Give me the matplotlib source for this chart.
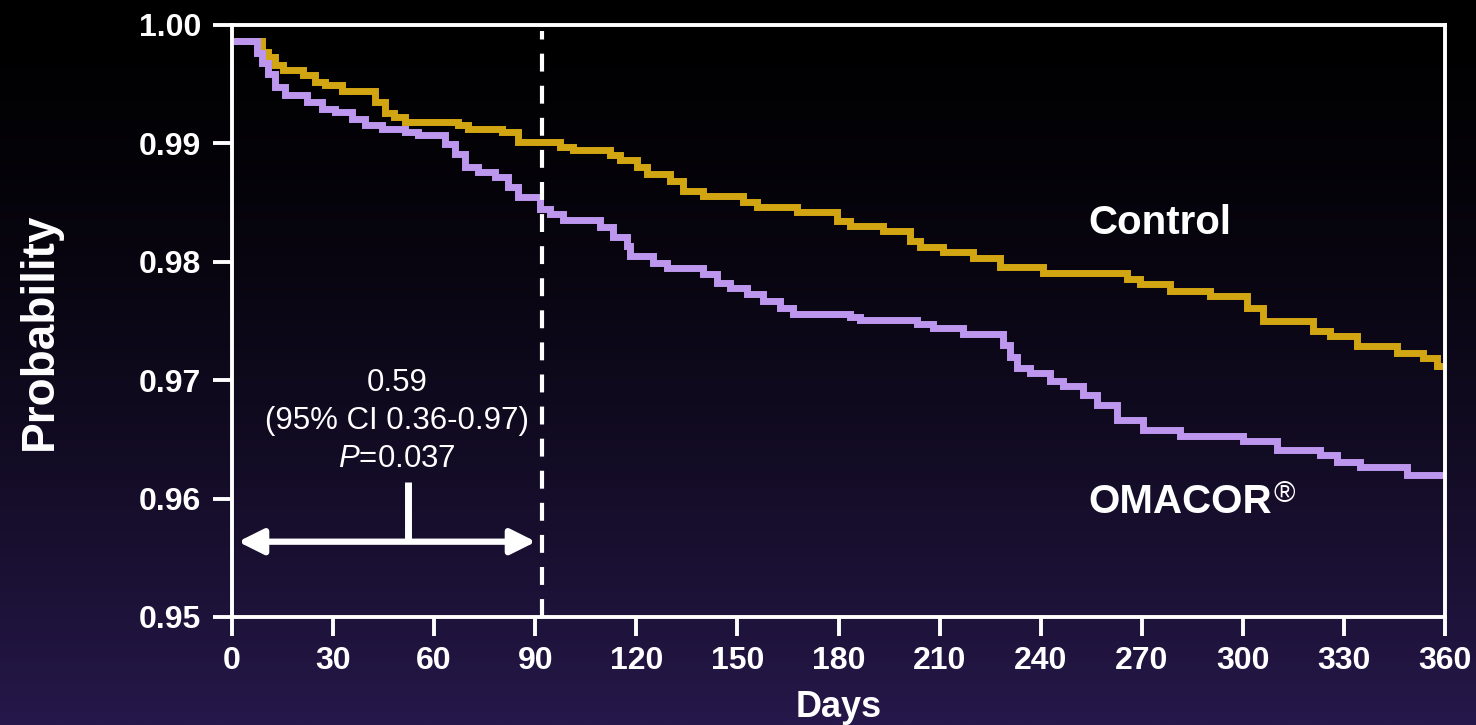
import matplotlib
matplotlib.use('Agg')
import matplotlib.pyplot as plt
import numpy as np

plt.rcParams['font.family'] = ['Liberation Sans', 'DejaVu Sans']
plt.rcParams['mathtext.fontset'] = 'custom'
plt.rcParams['mathtext.rm'] = 'Liberation Sans'
plt.rcParams['mathtext.it'] = 'Liberation Sans:italic'

# Kaplan-Meier style step curves (day, probability)
control_days = [1.5, 8.8, 10.8, 12.8, 15.2, 21.2, 24.6, 27.6, 32.6, 42.4, 45.4, 48.0,
                51.4, 67.2, 70.1, 80.0, 85.0, 97.4, 101.2, 112.2, 115.2, 120.2, 123.2,
                130.0, 133.9, 139.8, 151.7, 155.8, 167.7, 179.6, 183.4, 193.2, 201.2,
                204.2, 211.0, 219.9, 228.0, 240.7, 265.7, 269.5, 278.4, 290.3, 301.3,
                306.0, 320.9, 325.9, 333.9, 345.8, 353.5, 357.7, 359.5]
control_prob = [0.99867, 0.99774, 0.99731, 0.99661, 0.99619, 0.99576, 0.99520, 0.99492,
                0.99441, 0.99350, 0.99260, 0.99223, 0.99181, 0.99153, 0.99124, 0.99096,
                0.99011, 0.98969, 0.98941, 0.98898, 0.98856, 0.98799, 0.98743, 0.98686,
                0.98602, 0.98559, 0.98503, 0.98460, 0.98418, 0.98347, 0.98305, 0.98263,
                0.98178, 0.98121, 0.98079, 0.98036, 0.97958, 0.97909, 0.97853, 0.97811,
                0.97754, 0.97712, 0.97613, 0.97500, 0.97415, 0.97373, 0.97288, 0.97231,
                0.97189, 0.97119, 0.97119]

omacor_days = [1.5, 7.3, 8.8, 10.8, 12.8, 15.7, 22.2, 26.6, 30.6, 35.5, 39.5, 44.4, 51.4,
               55.3, 63.2, 66.2, 69.2, 73.1, 78.1, 82.0, 85.0, 91.4, 94.4, 98.2, 109.2,
               113.1, 117.2, 118.1, 125.0, 129.1, 139.8, 144.0, 147.8, 152.9, 157.6,
               162.7, 166.5, 183.4, 186.4, 203.3, 208.1, 217.0, 228.9, 231.0, 233.0,
               236.9, 242.8, 246.7, 252.6, 256.8, 262.7, 270.4, 281.4, 300.1, 310.2,
               322.9, 328.0, 334.8, 348.8, 359.5]
omacor_prob = [0.99867, 0.99760, 0.99675, 0.99590, 0.99477, 0.99407, 0.99350, 0.99294,
               0.99265, 0.99209, 0.99153, 0.99124, 0.99096, 0.99068, 0.98997, 0.98913,
               0.98799, 0.98757, 0.98714, 0.98630, 0.98545, 0.98449, 0.98404, 0.98353,
               0.98291, 0.98206, 0.98130, 0.98051, 0.97994, 0.97946, 0.97896, 0.97825,
               0.97782, 0.97726, 0.97669, 0.97613, 0.97562, 0.97530, 0.97505, 0.97477,
               0.97443, 0.97387, 0.97300, 0.97200, 0.97104, 0.97062, 0.96991, 0.96949,
               0.96879, 0.96794, 0.96667, 0.96582, 0.96525, 0.96483, 0.96412, 0.96370,
               0.96313, 0.96271, 0.96201, 0.96201]

x_ticks = [0, 30, 60, 90, 120, 150, 180, 210, 240, 270, 300, 330, 360]
y_ticks = [0.95, 0.96, 0.97, 0.98, 0.99, 1.00]
y_tick_labels = ['0.95', '0.96', '0.97', '0.98', '0.99', '1.00']

cutoff_day = 92
hr_lines = ['0.59', '(95% CI 0.36-0.97)', '$P$=0.037']

gold = '#d2a512'
lavender = '#bd96ee'

fig = plt.figure(figsize=(14.76, 7.25), dpi=100)

# background gradient: black on top, dark purple towards the bottom
bg = fig.add_axes([0, 0, 1, 1], zorder=0)
t = np.linspace(0, 1, 725)[:, None, None]
bottom_col = np.array([38, 24, 74]) / 255.0
grad = (t ** 1.5) * bottom_col[None, None, :]
bg.imshow(np.repeat(grad, 4, axis=1), aspect='auto', extent=[0, 1, 0, 1])
bg.axis('off')

ax = fig.add_axes([232 / 1476, 1 - 617 / 725, 1213 / 1476, 592 / 725], zorder=1)
ax.set_facecolor('none')

ax.step(control_days, control_prob, where='post', color=gold, lw=5, solid_joinstyle='miter')
ax.step(omacor_days, omacor_prob, where='post', color=lavender, lw=5, solid_joinstyle='miter')

ax.set_xlim(0, 360)
ax.set_ylim(0.95, 1.00)
ax.set_xticks(x_ticks)
ax.set_yticks(y_ticks)
ax.set_yticklabels(y_tick_labels)

for s in ax.spines.values():
    s.set_color('white')
    s.set_linewidth(2.8)
ax.tick_params(axis='both', colors='white', width=2.8, length=14, labelsize=23)
ax.tick_params(axis='x', pad=7)
ax.tick_params(axis='y', pad=8)
for lab in ax.get_xticklabels() + ax.get_yticklabels():
    lab.set_fontweight('bold')

# 90-day cut-off
ax.axvline(cutoff_day, ymin=0, ymax=0.99, color='white', lw=3, linestyle=(0, (4.3, 3.4)))

# hazard ratio annotation for first 90 days
ax.annotate('', xy=(1.8, 0.95636), xytext=(90.2, 0.95636),
            arrowprops=dict(arrowstyle='<|-|>', color='white', lw=4.5,
                            mutation_scale=38, shrinkA=0, shrinkB=0))
ax.plot([52.2, 52.2], [0.95636, 0.96136], color='white', lw=5, solid_capstyle='butt')
for line, yv in zip(hr_lines, [0.96975, 0.96653, 0.96331]):
    ax.text(48.9, yv, line, color='white', fontsize=22.5, ha='center', va='center')

ax.text(254.1, 0.98331, 'Control', color='white', fontsize=29, fontweight='bold',
        ha='left', va='center')
om = ax.text(254.1, 0.95975, 'OMACOR', color='white', fontsize=29, fontweight='bold',
             ha='left', va='center')
ax.annotate('\u00ae', xy=(1.0, 1.0), xycoords=om, xytext=(1, 2), textcoords='offset points',
            color='white', fontsize=21, ha='left', va='top')

ax.set_xlabel('Days', color='white', fontsize=26, fontweight='bold', labelpad=10)
fig.text(40 / 1476, 1 - 331 / 725, 'Probability', color='white', fontsize=33,
         fontweight='bold', rotation=90, ha='center', va='center')

fig.savefig('out.png', dpi=100, facecolor='black')
